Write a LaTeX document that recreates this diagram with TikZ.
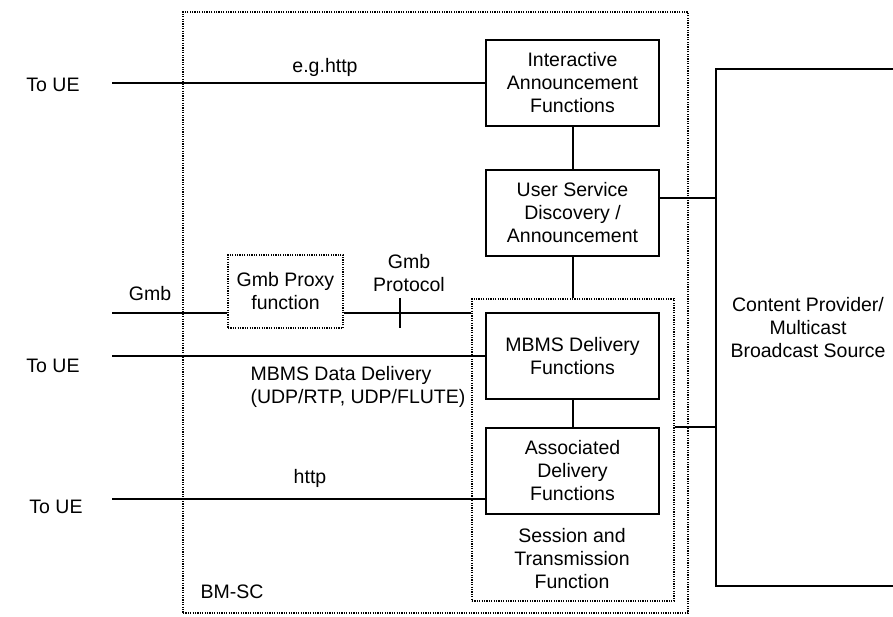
\documentclass[tikz,border=0pt]{standalone}
\usepackage{fontspec}
\setmainfont{Liberation Sans}
\usetikzlibrary{positioning}

\begin{document}
\begin{tikzpicture}[x=1pt, y=-1pt, node distance=129.5pt,
	every node/.style={font=\fontsize{19.5}{23}\selectfont, align=center},
	fn/.style={draw, line width=2pt, minimum width=173pt, minimum height=86pt, inner sep=0pt},
	grp/.style={draw, line width=1.3pt, dash pattern=on 1.2pt off 1.2pt, inner sep=0pt},
	link/.style={line width=2pt}]
		\useasboundingbox (0,0) rectangle (893,616);
		\node[grp, minimum width=505pt, minimum height=601pt] (bmsc) at (435.5,312.5) {};
		\node[grp, minimum width=202pt, minimum height=302pt] (st) at (573,450) {};
		\node[grp, minimum width=115pt, minimum height=73pt] (proxy) at (285.5,291.5) {Gmb Proxy\\function};
		
		\node[fn] (ia) at (572.5,83) {Interactive\\Announcement\\Functions};
		\node[fn] (usd) [below of=ia] {User Service\\Discovery /\\Announcement};
		\node[fn] (mbms) at (572.5,356) {MBMS Delivery\\Functions};
		\node[fn] (adf) [below of=mbms, node distance=115pt] {Associated\\Delivery\\Functions};
		\node[fn, minimum width=184pt, minimum height=517pt] (cp) at (808,327.5) {Content Provider/\\Multicast\\Broadcast Source};
		
		\node (ue1) at (53,85) {To UE};
		\node (gmb) at (150,294) {Gmb};
		\node (ue2) at (53,366) {To UE};
		\node (ue3) at (56,507) {To UE};
		\node (httpa) at (325,67) {e.g.http};
		\node (proto) at (409,273.5) {Gmb\\Protocol};
		\node[align=left, anchor=west] (data) at (247,387) {MBMS Data Delivery\\(UDP/RTP, UDP/FLUTE)};
		\node (httpb) at (310,478) {http};
		\node (bmsclbl) at (232,592) {BM-SC};
		\node (stlbl) at (572,559) {Session and\\Transmission\\Function};
		
		\coordinate (a1) at (112,83);
		\coordinate (a2) at (112,313);
		\coordinate (a3) at (112,356);
		\coordinate (a4) at (112,499);
		\coordinate (tick) at (400,298);
		\coordinate (b1) at ([yshift=14.5pt]usd.east);
		\coordinate (b2) at ([yshift=23pt]st.east);
		
		\draw[link] (a1) -- (ia.west);
		\draw[link] (a2) -- (a2 -| proxy.west) (proxy.east |- a2) -- (a2 -| st.west);
		\draw[link] (tick) -- ++(0,30);
		\draw[link] (a3) -- (mbms.west);
		\draw[link] (a4) -- (a4 -| adf.west);
		\draw[link] (ia) -- (usd);
		\draw[link] (usd.south) -- (usd.south |- st.north);
		\draw[link] (mbms) -- (adf);
		\draw[link] (b1) -- (b1 -| cp.west);
		\draw[link] (b2) -- (b2 -| cp.west);
	\end{tikzpicture}
\end{document}
